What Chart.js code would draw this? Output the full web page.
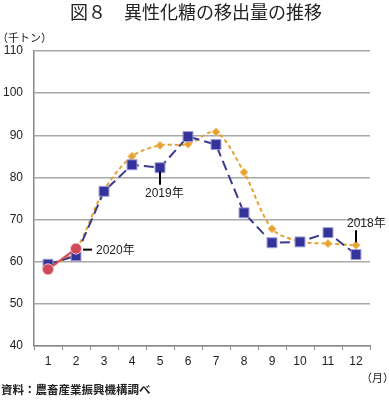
<!DOCTYPE html>
<html>
<head>
<meta charset="utf-8">
<script src="https://cdn.jsdelivr.net/npm/chart.js@4"></script>
<style>
  html, body { margin: 0; padding: 0; background: #fff; }
  #wrap { width: 389px; height: 400px; position: relative; }
</style>
</head>
<body>
<div id="wrap"><canvas id="chart"></canvas></div>
<script>
// months
const months = ['1', '2', '3', '4', '5', '6', '7', '8', '9', '10', '11', '12'];

// 千トン
const data2018 = [58.3, 63.0, 77.0, 85.0, 87.6, 87.9, 90.8, 81.2, 67.8, 64.8, 64.3, 63.9];
const data2019 = [59.4, 61.4, 76.7, 83.0, 82.3, 89.7, 87.8, 71.6, 64.5, 64.7, 66.9, 61.7];
const data2020 = [58.2, 63.1];

const yTicks = [40, 50, 60, 70, 80, 90, 100, 110];

const titleText = '図８　異性化糖の移出量の推移';
const unitY = '（千トン）';
const unitX = '（月）';
const sourceText = '資料：農畜産業振興機構調べ';

const font = "'Liberation Sans', 'Noto Sans CJK JP', sans-serif";
const jpFont = "'Noto Sans CJK JP', 'Liberation Sans', sans-serif";

// extra texts and leader lines
const extras = {
  id: 'extras',
  afterDraw(chart) {
    const ctx = chart.ctx;
    const x = chart.scales.x;
    const y = chart.scales.y;
    ctx.save();
    ctx.fillStyle = '#222';
    ctx.textBaseline = 'middle';

    ctx.font = '18px ' + jpFont;
    ctx.textAlign = 'center';
    ctx.fillText(titleText, 196, 12);

    ctx.font = '11px ' + jpFont;
    ctx.textAlign = 'left';
    ctx.fillText(unitY, -3, 38);
    ctx.fillText(unitX, 361, 378);

    ctx.font = 'bold 11.5px ' + jpFont;
    ctx.fillText(sourceText, 1, 390);

    // labels for each year
    ctx.strokeStyle = '#000';
    ctx.lineWidth = 2;
    ctx.font = '12px ' + font;

    // 2019年 under May
    let px = x.getPixelForValue(4);
    let py = y.getPixelForValue(data2019[4]);
    ctx.beginPath();
    ctx.moveTo(px, py + 4);
    ctx.lineTo(px, py + 17);
    ctx.stroke();
    ctx.fillText('2019年', px - 15, py + 26);

    // 2020年 right of Feb
    px = x.getPixelForValue(1);
    py = y.getPixelForValue(data2020[1]);
    ctx.beginPath();
    ctx.moveTo(px + 7, py + 1);
    ctx.lineTo(px + 16, py + 1);
    ctx.stroke();
    ctx.fillText('2020年', px + 20, py + 2);

    // 2018年 above Dec
    px = x.getPixelForValue(11);
    py = y.getPixelForValue(data2018[11]);
    ctx.beginPath();
    ctx.moveTo(px, py - 15);
    ctx.lineTo(px, py - 3);
    ctx.stroke();
    ctx.fillText('2018年', px - 9, py - 22);

    ctx.restore();
  }
};

new Chart(document.getElementById('chart'), {
  type: 'line',
  data: {
    labels: months,
    datasets: [
      {
        label: '2018年',
        data: data2018,
        borderColor: '#e8a030',
        borderWidth: 2,
        borderDash: [4, 3],
        pointStyle: 'rectRot',
        pointRadius: 4,
        pointBackgroundColor: '#e8a030',
        pointBorderColor: '#f0c070',
        pointBorderWidth: 1,
        tension: 0.3,
        order: 3
      },
      {
        label: '2019年',
        data: data2019,
        borderColor: '#3a3a8c',
        borderWidth: 2,
        borderDash: [10, 5],
        pointStyle: 'rect',
        pointRadius: 7,
        pointBackgroundColor: '#33339a',
        pointBorderColor: '#9a9ad8',
        pointBorderWidth: 1,
        tension: 0,
        order: 2
      },
      {
        label: '2020年',
        data: data2020,
        borderColor: '#d04a5a',
        borderWidth: 2,
        pointStyle: 'circle',
        pointRadius: 5.5,
        pointBackgroundColor: '#d04a5a',
        pointBorderColor: '#f4c0c6',
        pointBorderWidth: 1,
        tension: 0,
        order: 1
      }
    ]
  },
  options: {
    responsive: true,
    maintainAspectRatio: false,
    animation: false,
    layout: { padding: { top: 51, right: 19, left: 0, bottom: 0 } },
    plugins: {
      legend: { display: false },
      title: { display: false },
      tooltip: { enabled: false }
    },
    scales: {
      x: {
        offset: true,
        grid: {
          offset: true,
          drawOnChartArea: false,
          drawTicks: true,
          tickLength: 4,
          color: '#888'
        },
        border: { color: '#888', width: 1.5 },
        ticks: { color: '#222', font: { size: 12, family: font }, padding: 4, maxRotation: 0 },
        afterFit(scale) { scale.height = 54; }
      },
      y: {
        min: 40,
        max: 110,
        afterBuildTicks(scale) { scale.ticks = yTicks.map(v => ({ value: v })); },
        grid: { color: '#a8a8a8', lineWidth: 1.5, drawTicks: false },
        border: { color: '#888', width: 1.5 },
        ticks: { color: '#222', font: { size: 12, family: font }, padding: 11 },
        afterFit(scale) { scale.width = 34; }
      }
    }
  },
  plugins: [extras]
});
</script>
</body>
</html>
